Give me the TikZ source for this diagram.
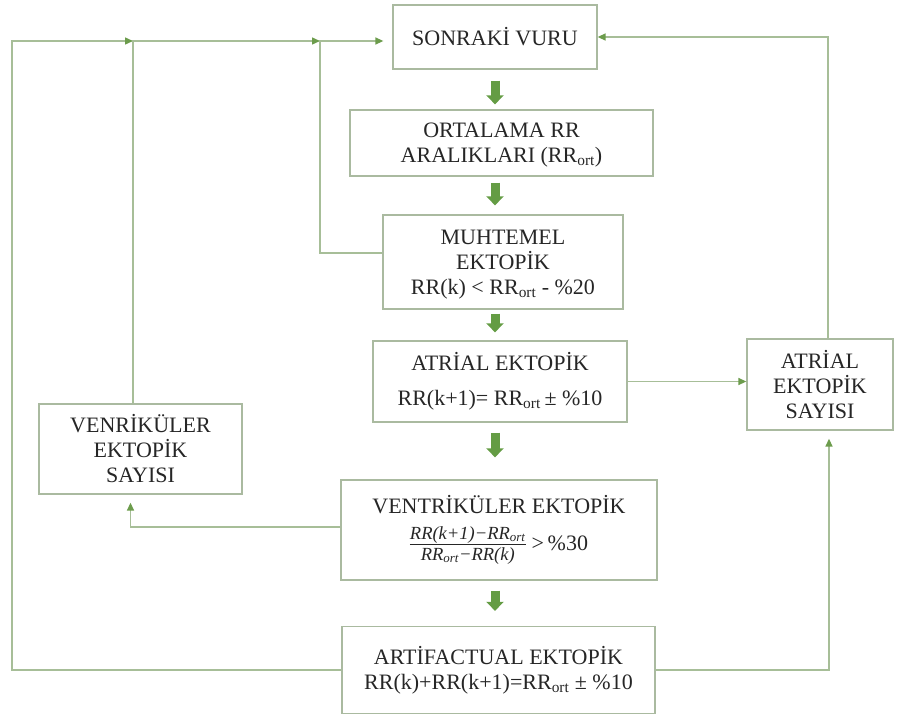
\documentclass[tikz,border=0pt]{standalone}
\usepackage{fontspec}
\setmainfont{Liberation Serif}
\usetikzlibrary{arrows.meta}

\definecolor{linec}{RGB}{167,190,152}
\definecolor{boxc}{RGB}{170,186,160}
\definecolor{tipc}{RGB}{108,156,76}
\definecolor{blkc}{RGB}{100,156,68}
\definecolor{txtc}{RGB}{38,38,38}

% a small stacked ratio set in italic text
\newcommand{\ratio}[2]{{\fontsize{18.5}{19}\selectfont\itshape
  \renewcommand{\arraystretch}{0.9}\setlength{\tabcolsep}{0pt}%
  \setlength{\arrayrulewidth}{0.8pt}%
  \begin{tabular}{c}#1\\\hline\rule{0pt}{15pt}#2\end{tabular}}}

\tikzset{
  box/.style={draw=boxc, line width=1.3pt, fill=white, align=center,
    text=txtc, inner sep=0pt, font=\fontsize{22}{25}\selectfont},
  conn/.style={draw=linec, line width=1.4pt,
    -{Triangle[width=7pt,length=8pt,color=tipc]}},
  blk/.style={draw=blkc, line width=9pt,
    -{Triangle[width=17pt,length=9pt]}},
}

\begin{document}
\begin{tikzpicture}[x=1pt, y=-1pt]
\useasboundingbox (0,0) rectangle (897,720);

% main chain
\node[box, minimum width=204pt, minimum height=64pt] (sonraki) at (495,37) {SONRAKİ VURU};
\node[box, minimum width=303pt, minimum height=66pt, text depth=-2pt] (ortalama) at (501.5,143) {ORTALAMA RR\\ARALIKLARI (RR\textsubscript{ort})};
\node[box, minimum width=240pt, minimum height=94pt, text depth=-1pt] (muhtemel) at (503,262) {MUHTEMEL\\EKTOPİK\\RR(k) \textless{} RR\textsubscript{ort} - \%20};
\node[box, minimum width=254pt, minimum height=81pt] (atrial) at (500,381.5) {ATRİAL EKTOPİK\\[10pt]RR(k+1)= RR\textsubscript{ort}\,± \%10};
\node[box, minimum width=316pt, minimum height=100pt] (vent) at (499,530) {VENTRİKÜLER EKTOPİK\\[12pt]\ratio{RR(k+1)−RR\textsubscript{ort}}{RR\textsubscript{ort}−RR(k)}\;>\,\%30};
\node[box, minimum width=313pt, minimum height=87pt] (art) at (498.5,670) {ARTİFACTUAL EKTOPİK\\RR(k)+RR(k+1)=RR\textsubscript{ort} ± \%10};

% counters
\node[box, minimum width=146pt, minimum height=91pt] (atsay) at (820,384.5) {ATRİAL\\EKTOPİK\\SAYISI};
\node[box, minimum width=203pt, minimum height=90pt] (vensay) at (140.5,449) {VENRİKÜLER\\EKTOPİK\\SAYISI};

% block arrows along the chain
\draw[blk, shorten <=11pt, shorten >=5pt] (sonraki.south) -- (sonraki.south |- ortalama.north);
\draw[blk, shorten <=6pt, shorten >=9pt] (ortalama.south -| sonraki.south) -- (sonraki.south |- muhtemel.north);
\draw[blk, shorten <=4pt, shorten >=8pt] (muhtemel.south -| sonraki.south) -- (sonraki.south |- atrial.north);
\draw[blk, shorten <=10pt, shorten >=22pt] (atrial.south -| sonraki.south) -- (sonraki.south |- vent.north);
\draw[blk, shorten <=10pt, shorten >=15pt] (vent.south -| sonraki.south) -- (sonraki.south |- art.north);

% feedback loops to the next beat
\coordinate (L1) at (12,41);
\coordinate (J1) at (133,41);
\coordinate (J2) at (320,41);
\coordinate (R1) at (828,37);

\draw[conn] (art.west) -| (L1) -- (J1);
\draw[conn] (J1 |- vensay.north) -- (J1) -- (J2);
\draw[conn, shorten >=9pt] ([yshift=9pt]muhtemel.west) -| (J2) -- (J2 -| sonraki.west);
\draw[conn] (R1 |- atsay.north) -- (R1) -- (sonraki.east |- R1);

% counting branches
\draw[conn] (atrial.east) -- (atsay.west |- atrial.east);
\draw[conn, shorten >=8pt] ([yshift=3pt]vent.west) -| ([xshift=-10pt]vensay.south);
\draw[conn, shorten >=8pt] (art.east) -| ([xshift=9pt]atsay.south);
\end{tikzpicture}
\end{document}
